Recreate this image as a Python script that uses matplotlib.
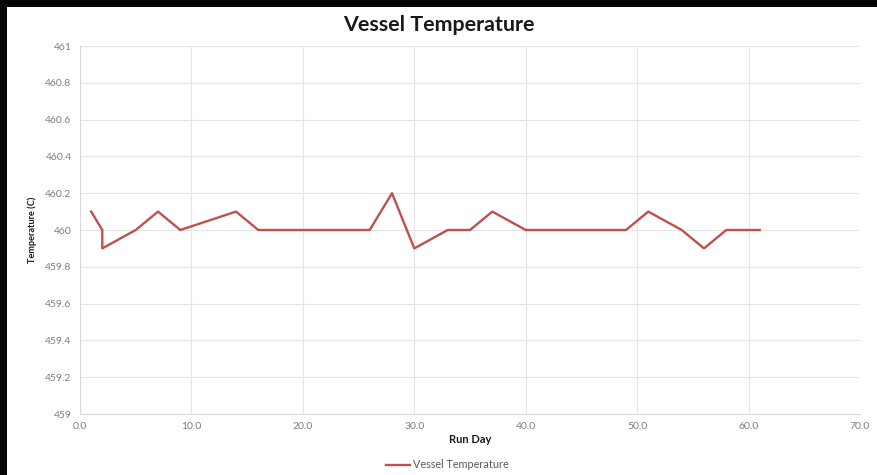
import numpy as np
import matplotlib.pyplot as plt
from matplotlib.patches import Rectangle

# run days and vessel temperature (C)
run_day = [1, 2, 2, 5, 7, 9, 14, 16, 26, 28, 30, 33, 35, 37, 40, 49, 51, 54, 56, 58, 61]
temperature = [460.1, 460.0, 459.9, 460.0, 460.1, 460.0, 460.1, 460.0, 460.0, 460.2,
               459.9, 460.0, 460.0, 460.1, 460.0, 460.0, 460.1, 460.0, 459.9, 460.0, 460.0]
x_ticks = np.arange(0, 71, 10)
y_ticks = [459, 459.2, 459.4, 459.6, 459.8, 460, 460.2, 460.4, 460.6, 460.8, 461]

plt.rcParams['font.family'] = ['Lato', 'DejaVu Sans']

fig = plt.figure(figsize=(8.78, 4.75), dpi=100)
fig.patch.set_facecolor('#050608')
# white slide area behind the chart
fig.patches.append(Rectangle((7 / 878, 0), 1, 1 - 7 / 475, transform=fig.transFigure,
                             facecolor='white', edgecolor='none', zorder=-5))

ax = fig.add_axes([80 / 878, (475 - 414) / 475, 780 / 878, 368 / 475])
ax.set_zorder(2)
ax.set_facecolor('white')
ax.plot(run_day, temperature, color='#C0504D', linewidth=1.7, label='Vessel Temperature')

ax.set_xlim(0, 70)
ax.set_ylim(459, 461)
ax.set_xticks(x_ticks)
ax.set_xticklabels(['%.1f' % v for v in x_ticks])
ax.set_yticks(y_ticks)
ax.set_yticklabels(['%g' % v for v in y_ticks])
ax.tick_params(length=0, labelsize=7.5, colors='#7f7f7f', pad=6)
ax.grid(True, color='#e4e4e4', linewidth=0.8)
ax.set_axisbelow(True)
for side in ['top', 'right']:
    ax.spines[side].set_visible(False)
for side in ['left', 'bottom']:
    ax.spines[side].set_color('#d9d9d9')
    ax.spines[side].set_linewidth(0.8)

ax.set_xlabel('Run Day', fontsize=8, fontweight='bold', color='#1a1a1a', labelpad=2)
ax.set_ylabel('Temperature (C)', fontsize=6.6, fontweight='bold', color='#1a1a1a', labelpad=6,
              family=['Liberation Sans Narrow', 'Lato', 'DejaVu Sans'])
fig.text(0.5, 1 - 25 / 475, 'Vessel Temperature', ha='center', va='center',
         fontsize=15.4, fontweight='bold', color='#1a1a1a', zorder=3)

leg = fig.legend(loc='center', bbox_to_anchor=(447 / 878, 1 - 465 / 475), frameon=False,
                 fontsize=7.8, handlelength=2.3, handletextpad=0.2)
for t in leg.get_texts():
    t.set_color('#595959')

fig.savefig('out.png', dpi=100, facecolor=fig.get_facecolor())
